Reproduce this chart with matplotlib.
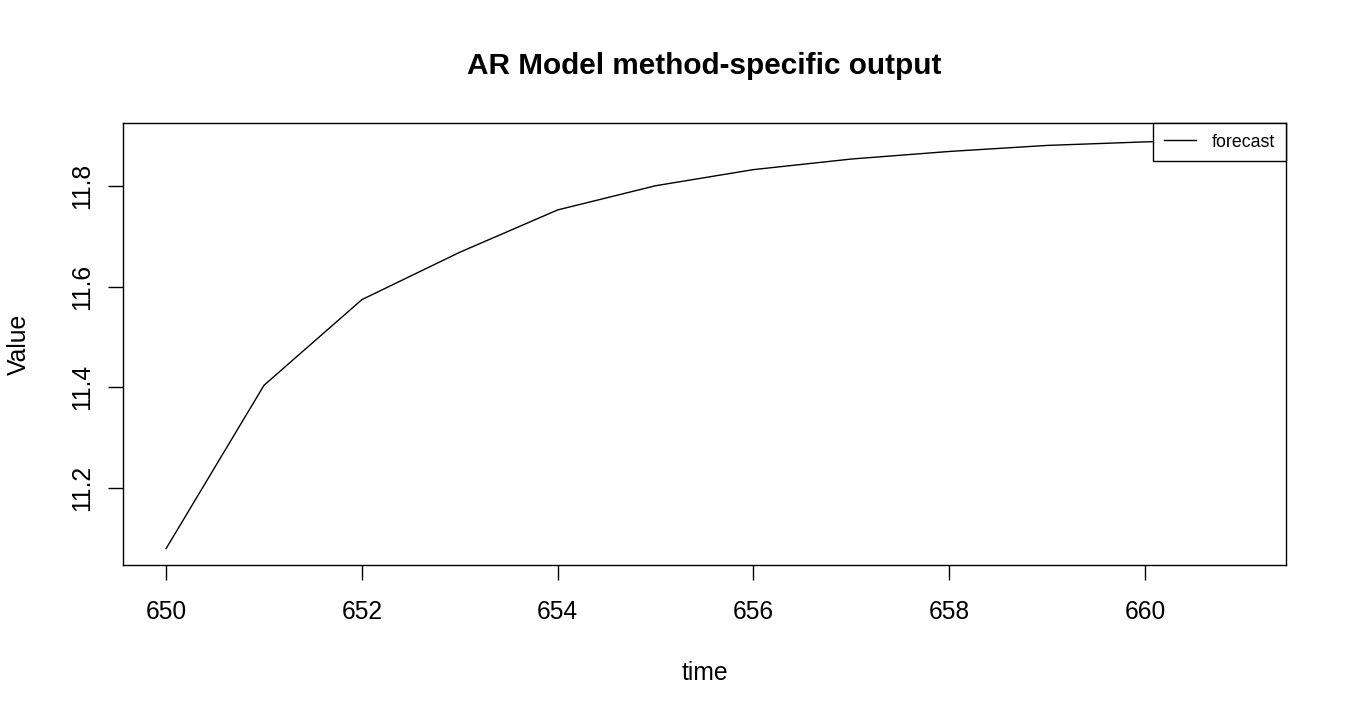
import matplotlib
matplotlib.use("Agg")
from matplotlib import pyplot as plt

plt.rcParams["font.family"] = ["Liberation Sans", "DejaVu Sans"]

time = [650, 651, 652, 653, 654, 655, 656, 657, 658, 659, 660, 661]
forecast = [11.080, 11.404, 11.574, 11.668, 11.752, 11.800, 11.832,
            11.853, 11.868, 11.880, 11.887, 11.892]
x_ticks = [650, 652, 654, 656, 658, 660]
y_ticks = [11.2, 11.4, 11.6, 11.8]

W, H = 1350, 720
left, right, top, bottom = 123, 1286, 123, 565

fig = plt.figure(figsize=(W / 100, H / 100), dpi=100)
ax = fig.add_axes([left / W, 1 - bottom / H, (right - left) / W, (bottom - top) / H])

ax.plot(time, forecast, color="black", linewidth=1, label="forecast")
ax.margins(x=0.04, y=0.04)

ax.set_xticks(x_ticks)
ax.set_yticks(y_ticks)
ax.set_yticklabels([f"{v:.1f}" for v in y_ticks], rotation=90, va="center")
ax.tick_params(direction="out", length=10.8, width=1, labelsize=17.7)
ax.tick_params(axis="x", pad=14.5)
ax.tick_params(axis="y", pad=10)
for s in ax.spines.values():
    s.set_linewidth(1)

ax.set_xlabel("time", fontsize=17.8)
ax.set_ylabel("Value", fontsize=17.8)
ax.xaxis.set_label_coords(0.5, -(661 - bottom) / (bottom - top))
ax.yaxis.set_label_coords(-(left - 31) / (right - left), 0.5)

fig.text((left + right) / 2 / W, 1 - 66 / H, "AR Model method-specific output",
         fontsize=21.4, fontweight="bold", ha="center", va="center")

leg = ax.legend(loc="upper right", fontsize=12.8, frameon=True, fancybox=False,
                edgecolor="black", framealpha=1, borderaxespad=0,
                handlelength=1.83, handletextpad=0.88, borderpad=0.6)
leg.get_frame().set_linewidth(1)

fig.savefig("out.png", dpi=100)
